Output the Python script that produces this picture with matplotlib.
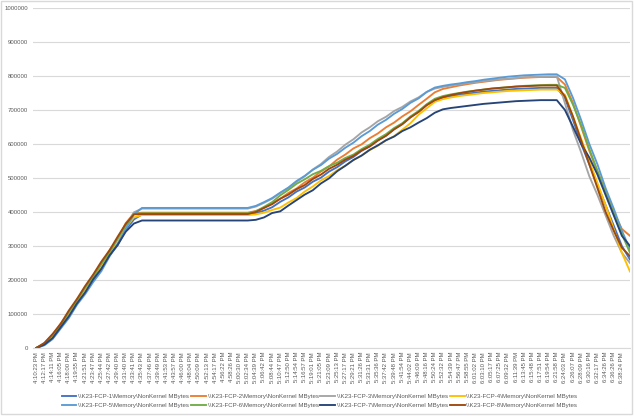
import numpy as np
import matplotlib.pyplot as plt
import matplotlib
from matplotlib.patches import Rectangle

matplotlib.rcParams['font.family'] = 'Liberation Sans'

times = ['4:10:23 PM', '4:12:17 PM', '4:14:11 PM', '4:16:05 PM', '4:18:00 PM', '4:19:55 PM',
         '4:21:51 PM', '4:23:47 PM', '4:25:44 PM', '4:27:42 PM', '4:29:40 PM', '4:31:40 PM',
         '4:33:41 PM', '4:35:43 PM', '4:37:46 PM', '4:39:49 PM', '4:41:53 PM', '4:43:57 PM',
         '4:46:00 PM', '4:48:04 PM', '4:50:09 PM', '4:52:13 PM', '4:54:17 PM', '4:56:22 PM',
         '4:58:26 PM', '5:00:30 PM', '5:02:34 PM', '5:04:39 PM', '5:06:42 PM', '5:08:44 PM',
         '5:10:47 PM', '5:12:50 PM', '5:14:54 PM', '5:16:57 PM', '5:19:01 PM', '5:21:05 PM',
         '5:23:09 PM', '5:25:13 PM', '5:27:17 PM', '5:29:21 PM', '5:31:26 PM', '5:33:31 PM',
         '5:35:36 PM', '5:37:42 PM', '5:39:48 PM', '5:41:54 PM', '5:44:02 PM', '5:46:09 PM',
         '5:48:16 PM', '5:50:24 PM', '5:52:32 PM', '5:54:39 PM', '5:56:47 PM', '5:58:55 PM',
         '6:01:02 PM', '6:03:10 PM', '6:05:17 PM', '6:07:25 PM', '6:09:32 PM', '6:11:39 PM',
         '6:13:45 PM', '6:15:48 PM', '6:17:51 PM', '6:19:54 PM', '6:21:58 PM', '6:24:03 PM',
         '6:26:07 PM', '6:28:09 PM', '6:30:16 PM', '6:32:17 PM', '6:34:26 PM', '6:36:26 PM',
         '6:38:24 PM']

# values in thousands of MBytes, one per sample (last sample has no label)
fcp1 = [0, 10, 28, 60, 90, 130, 162, 200, 232, 272, 302, 347, 378, 393,
        393, 393, 393, 393, 393, 393, 393, 393, 393, 393, 393, 393,
        393, 397, 404, 414, 430, 443, 460, 472, 489, 501, 519, 532, 549, 562, 580, 593,
        611, 625, 644, 659, 679, 695, 715, 728,
        736, 741, 745, 748, 751, 754, 756, 758, 760, 762, 763, 764, 765, 765, 765,
        735, 670, 600, 540, 480, 420, 360, 300, 260]
fcp2 = [0, 14, 38, 72, 103, 142, 176, 214, 248, 287, 320, 367, 396, 398,
        398, 398, 398, 398, 398, 398, 398, 398, 398, 398, 398, 398,
        398, 403, 412, 426, 439, 456, 469, 487, 501, 519, 534, 554, 569, 587, 599, 617,
        631, 649, 663, 681, 696, 715, 733, 752,
        762, 767, 772, 776, 780, 783, 786, 789, 791, 793, 795, 796, 797, 797, 797,
        775, 720, 650, 580, 520, 460, 400, 350, 330]
fcp3 = [0, 12, 36, 64, 104, 136, 174, 206, 246, 278, 320, 358, 399, 410,
        410, 410, 410, 410, 410, 410, 410, 410, 410, 410, 410, 410,
        410, 416, 427, 439, 456, 470, 489, 505, 525, 541, 562, 578, 598, 614, 634, 649,
        667, 680, 697, 709, 725, 737, 753, 763,
        768, 772, 776, 779, 782, 785, 788, 790, 792, 794, 796, 797, 798, 799, 799,
        720, 640, 575, 505, 450, 390, 330, 280, 250]
fcp4 = [0, 11, 32, 63, 94, 132, 166, 202, 236, 274, 308, 354, 384, 391,
        391, 391, 391, 391, 391, 391, 391, 391, 391, 391, 391, 391,
        391, 393, 398, 406, 413, 428, 441, 460, 475, 493, 506, 523, 536, 553, 566, 582,
        595, 611, 623, 642, 661, 686, 705, 724,
        732, 737, 741, 744, 747, 750, 752, 754, 756, 757, 758, 759, 760, 760, 760,
        745, 680, 615, 550, 485, 420, 350, 280, 225]
fcp5 = [0, 8, 26, 57, 88, 127, 158, 194, 226, 269, 306, 351, 393, 412,
        412, 412, 412, 412, 412, 412, 412, 412, 412, 412, 412, 412,
        412, 418, 429, 441, 457, 472, 491, 506, 524, 538, 557, 571, 589, 604, 623, 638,
        657, 671, 689, 703, 721, 734, 753, 766,
        771, 775, 778, 782, 785, 789, 792, 795, 798, 800, 802, 803, 804, 805, 805,
        790, 735, 670, 600, 540, 470, 410, 345, 290]
fcp6 = [0, 13, 38, 67, 106, 139, 178, 209, 248, 281, 322, 361, 394, 396,
        396, 396, 396, 396, 396, 396, 396, 396, 396, 396, 396, 396,
        396, 402, 415, 429, 449, 465, 483, 496, 511, 521, 535, 545, 559, 569, 585, 598,
        615, 629, 647, 661, 681, 697, 717, 733,
        741, 746, 750, 754, 757, 760, 763, 765, 767, 769, 771, 772, 773, 774, 774,
        765, 715, 655, 585, 520, 455, 395, 335, 280]
fcp7 = [0, 10, 29, 61, 93, 131, 163, 202, 233, 272, 303, 342, 366, 375,
        375, 375, 375, 375, 375, 375, 375, 375, 375, 375, 375, 375,
        375, 377, 384, 397, 402, 419, 435, 451, 464, 484, 499, 520, 536, 553, 566, 583,
        596, 611, 622, 638, 649, 663, 676, 692,
        702, 706, 709, 712, 715, 718, 720, 722, 724, 726, 727, 728, 729, 729, 729,
        700, 650, 600, 560, 510, 450, 390, 330, 300]
fcp8 = [0, 15, 41, 71, 110, 144, 182, 216, 254, 287, 327, 365, 393, 394,
        394, 394, 394, 394, 394, 394, 394, 394, 394, 394, 394, 394,
        394, 400, 412, 423, 439, 451, 467, 479, 497, 510, 527, 539, 554, 565, 581, 593,
        610, 624, 643, 658, 678, 694, 714, 729,
        738, 744, 749, 753, 757, 760, 763, 765, 767, 769, 770, 771, 772, 772, 772,
        740, 680, 610, 540, 470, 400, 345, 295, 270]

series = [fcp1, fcp2, fcp3, fcp4, fcp5, fcp6, fcp7, fcp8]
names = ['\\\\K23-FCP-%d\\Memory\\NonKernel MBytes' % (i + 1) for i in range(8)]
colors = ['#4472C4', '#ED7D31', '#A5A5A5', '#FFC000', '#5B9BD5', '#70AD47', '#264478', '#9E480E']

txt = '#595959'
grid = '#D9D9D9'

fig = plt.figure(figsize=(6.34, 4.16), dpi=100)
ax = fig.add_axes([33/634, 1-348/416, 597/634, 340/416])

lines = []
for vals, name, col in zip(series, names, colors):
    x = np.arange(len(vals))
    ln, = ax.plot(x, np.array(vals) * 1000, color=col, lw=1.35, label=name, solid_joinstyle='round')
    lines.append(ln)

ax.set_ylim(0, 1000000)
ax.set_xlim(-0.4, 73.0)
ax.set_yticks(np.arange(0, 1000001, 100000))
ax.set_yticklabels([str(v) for v in range(0, 1000001, 100000)])
ax.set_xticks(np.arange(len(times)))
ax.set_xticklabels(times, rotation=90, va='top', ha='center')
ax.tick_params(axis='y', length=0, pad=3.5, labelsize=4.3, labelcolor=txt)
ax.tick_params(axis='x', length=0, pad=2.8, labelsize=4.3, labelcolor=txt)
ax.yaxis.grid(True, color=grid, lw=0.8)
ax.set_axisbelow(True)
for s in ['top', 'right', 'left']:
    ax.spines[s].set_visible(False)
ax.spines['bottom'].set_color(grid)
ax.spines['bottom'].set_linewidth(0.8)

# legend filled row by row like excel
order = [0, 4, 1, 5, 2, 6, 3, 7]
leg = fig.legend([lines[i] for i in order], [names[i] for i in order],
                 loc='center', bbox_to_anchor=(0.504, 0.036), ncol=4, frameon=False,
                 fontsize=4.4, handlelength=2.45, handletextpad=0.3, columnspacing=0.25,
                 labelspacing=0.55, borderpad=0)
for t in leg.get_texts():
    t.set_color(txt)

fig.add_artist(Rectangle((0.001, 0.006), 0.996, 0.992, transform=fig.transFigure,
                         fill=False, edgecolor=grid, lw=1))

fig.savefig('out.png', dpi=100)
